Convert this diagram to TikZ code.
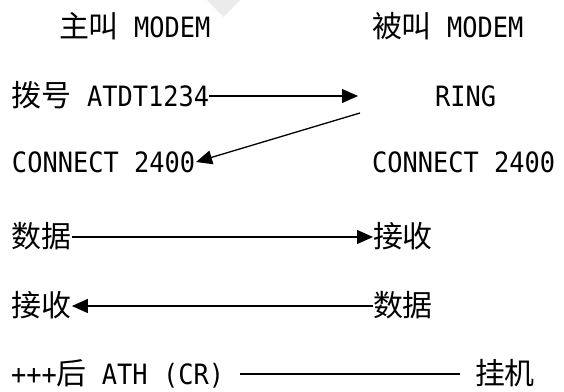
\documentclass[tikz,border=0pt]{standalone}
\usepackage{fontspec}
\setmainfont[FakeStretch=0.905]{DejaVu Sans Mono}
\newfontfamily\cjk[Scale=1.07]{Noto Sans CJK SC}
\newcommand\zh[1]{{\cjk #1}}
\usetikzlibrary{arrows.meta}
\begin{document}
\begin{tikzpicture}[x=1pt,y=-1pt,
  txt/.style={inner sep=0pt,outer sep=0pt,anchor=base west,font=\fontsize{28}{32}\selectfont},
  conn/.style={line width=1.3pt,draw=black},
  arr/.style={conn,-{Triangle[length=16pt,width=14pt]}}]
\useasboundingbox (0,0) rectangle (564,391);
\fill[black!8] (207,0) -- (240,0) -- (223.5,17) -- cycle;
% row 1
\node[txt] (n1) at (59,37) {\zh{主叫} MODEM};
\node[txt] (n2) at (372,37) {\zh{被叫} MODEM};
% row 2
\node[txt] (a2) at (12,106) {\zh{拨号} ATDT1234};
\node[txt] (ring) at (435,106) {RING};
\coordinate (e2) at (358,96);
\draw[arr] ([yshift=10pt]a2.base east) -- (e2);
% row 3
\node[txt] (c1) at (12,172) {CONNECT 2400};
\node[txt] (c2) at (372,172) {CONNECT 2400};
\coordinate (s3) at (360,113);
\draw[arr] (s3) -- ([xshift=1pt,yshift=10pt]c1.base east);
% row 4
\node[txt] (d4) at (12,247) {\zh{数据}};
\node[txt] (r4) at (373,247) {\zh{接收}};
\draw[arr] ([yshift=10pt]d4.base east) -- ([yshift=10pt]r4.base west);
% row 5
\node[txt] (r5) at (12,316) {\zh{接收}};
\node[txt] (d5) at (373,316) {\zh{数据}};
\draw[arr] ([yshift=10pt]d5.base west) -- ([yshift=10pt]r5.base east);
% row 6
\node[txt] (h6) at (11,384) {+++\zh{后} ATH (CR)};
\node[txt] (g6) at (475,384) {\zh{挂机}};
\draw[conn] ([xshift=16pt,yshift=10pt]h6.base east) -- ([xshift=-15pt,yshift=10pt]g6.base west);
\end{tikzpicture}
\end{document}
